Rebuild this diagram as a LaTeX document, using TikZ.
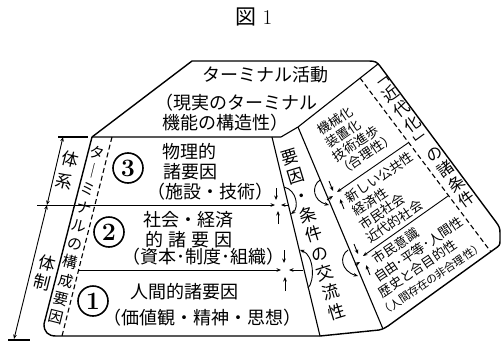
\documentclass[tikz,border=0pt]{standalone}
\usepackage{fontspec}
\newfontfamily\jp{Noto Sans CJK JP}
\usetikzlibrary{arrows.meta}
\begin{document}
\begin{tikzpicture}[x=1pt,y=-1pt,
  ln/.style={line width=1.4pt, line join=round},
  lnb/.style={line width=1.1pt},
  dsh/.style={line width=1.1pt, dash pattern=on 5pt off 3pt},
  arr/.style={-{Stealth[length=4.5pt,width=3.6pt]}, line width=0.9pt},
  arrs/.style={{Stealth[length=4.5pt,width=3.6pt]}-, line width=0.9pt},
  arrb/.style={{Stealth[length=4.5pt,width=3.6pt]}-{Stealth[length=4.5pt,width=3.6pt]}, line width=0.9pt},
  tx/.style={font=\jp\fontsize{18}{20}\selectfont, inner sep=0pt},
  tr/.style={font=\jp\fontsize{13}{15}\selectfont, inner sep=0pt, rotate=34, anchor=west},
  vt/.style={inner sep=0pt, align=center},
  cnum/.style={circle, draw, line width=1.6pt, minimum size=30pt, inner sep=0pt, font=\fontsize{25}{25}\selectfont\bfseries},
]
\useasboundingbox (0,0) rectangle (503,343);

% key points
\coordinate (D) at (92,137);
\coordinate (A) at (192,61);
\coordinate (E) at (281,137);
\coordinate (C) at (298,127);
\coordinate (Bc) at (378,64);
\coordinate (BL) at (272,137);
\coordinate (BLb) at (320,336);
\coordinate (BRb) at (383,329);

% outline
\draw[ln] (D) -- (A) -- (369,61) .. controls (375,61) and (377,62) .. (380,66)
  -- (496,222) .. controls (499,226) and (500,228) .. (500,233) -- (500,241)
  .. controls (500,245) and (499,246) .. (496,248) -- (388,326)
  .. controls (385,328) and (383,329) .. (379,330) -- (BLb) -- (56,336)
  .. controls (48,336) and (44,332) .. (44,324) -- cycle;

% inner edges
\draw[lnb] (D) -- (E) -- (C) -- (Bc);
\draw[lnb] (BL) -- (BLb);
\draw[lnb] (C) -- (BRb);
\draw[dsh] (112,137) -- (62,336);
\draw[dsh] (360,78) -- (491,252);

% dimension marks
\draw[lnb] (58,137) -- (88,137);
\draw[lnb] (8,340) -- (30,340);
\draw[arrb] (63,137) -- (47,205);
\draw[arrb] (47,205) -- (14,339);

% front dividers and clusters
\draw[arr] (37,205) -- (275,205);
\draw[arr] (276,188) -- (276,200);
\draw[arr] (278,224) -- (278,211);
\draw[arr] (288,205) -- (281,205);
\draw[arr] (284,187) .. controls (297,190) and (299,208) .. (291,214);

\draw[arr] (78,270) -- (281,270);
\draw[arr] (284,250) -- (284,263);
\draw[arr] (285,291) -- (285,277);
\draw[arr] (303,270) -- (289,270);
\draw[arrs] (300,250) .. controls (314,255) and (315,281) .. (308,288);

% right face dividers and clusters
\draw[arr] (408,143) -- (337,192);
\draw[arr] (329,181) -- (333,191);
\draw[arr] (344,209) -- (340,199);
\draw[arr] (327,200) -- (333,196);
\draw[arr] (320,180) .. controls (311,186) and (313,201) .. (329,205);

\draw[arr] (448,196) -- (363,256);
\draw[arr] (354,244) -- (358,254);
\draw[arr] (370,275) -- (366,265);
\draw[arr] (355,265) -- (360,262);
\draw[arr] (348,250) .. controls (339,256) and (341,271) .. (358,276);

% title
\node[font=\jp\fontsize{21}{23}\selectfont, inner sep=0pt] (title) at (254,17) {図\hspace{6pt}{\rmfamily 1}};

% top face
\node[tx] (t1) at (265,75) {ターミナル活動};
\node[tx] (t2) at (236,103) {（現実のターミナル};
\node[tx] (t3) at (225,123) {機能の構造性）};

% front face
\node[cnum] (n3) at (128,168) {3};
\node[tx] (p1) at (189,152) {物理的};
\node[tx] (p2) at (190,172) {諸要因};
\node[tx] (p3) at (210,192) {（施設・技術）};

\node[cnum] (n2) at (109,232) {2};
\node[tx] (s1) at (188,220) {社会・経済};
\node[tx] (s2) at (189,240) {的\hspace{5pt}諸\hspace{5pt}要\hspace{5pt}因};
\node[tx] (s3) at (203,257) {（資本･制度･組織）};

\node[cnum] (n1) at (93,301) {1};
\node[tx] (h1) at (184,292) {人間的諸要因};
\node[tx] (h2) at (202,318) {（価値観・精神・思想）};

% vertical texts
\node[vt, rotate=-14, font=\jp\fontsize{15}{18.8}\selectfont] (strip) at (77,235) {タ\\｜\\ミ\\ナ\\ル\\の\\構\\成\\要\\因};
\node[vt, rotate=-14, font=\jp\fontsize{17}{23}\selectfont] (taikei) at (67.5,170) {体\\系};
\node[vt, rotate=-14, font=\jp\fontsize{17}{20}\selectfont] (taisei) at (45,273) {体\\制};
\node[vt, rotate=17, font=\jp\fontsize{17}{20.2}\selectfont] (band) at (313.5,234.5) {要\\因\\・\\条\\件\\の\\交\\流\\性};
\node[vt, rotate=36, font=\jp\fontsize{16}{18.6}\selectfont] (kindai) at (426,143) {﹁\\近\\代\\化\\﹂\\の\\諸\\条\\件};

% right face boxes (frame along the dividers)
\begin{scope}[shift={(363,256)}, rotate=34]
\node[tr] (r11) at (33,-127.6) {機械化};
\node[tr] (r12) at (32,-112.5) {装置化};
\node[tr] (r13) at (30.5,-97.5) {技術進歩};
\node[tr] (r14) at (27,-82.5) {（合理性）};

\node[tr] (r21) at (18.5,-56) {新しい公共性};
\node[tr] (r22) at (16.5,-41) {経済性};
\node[tr] (r23) at (14.5,-26) {市民社会};
\node[tr] (r24) at (12.5,-11) {近代的社会};

\node[tr] (r31) at (6.5,10) {市民意識};
\node[tr] (r32) at (-2.5,25.5) {自由･平等･人間性};
\node[tr] (r33) at (-7.5,41) {歴史と合目的性};
\node[tr, font=\jp\fontsize{11}{13}\selectfont] (r34) at (-16.5,57.5) {（人間存在の非合理性）};
\end{scope}
\end{tikzpicture}
\end{document}
